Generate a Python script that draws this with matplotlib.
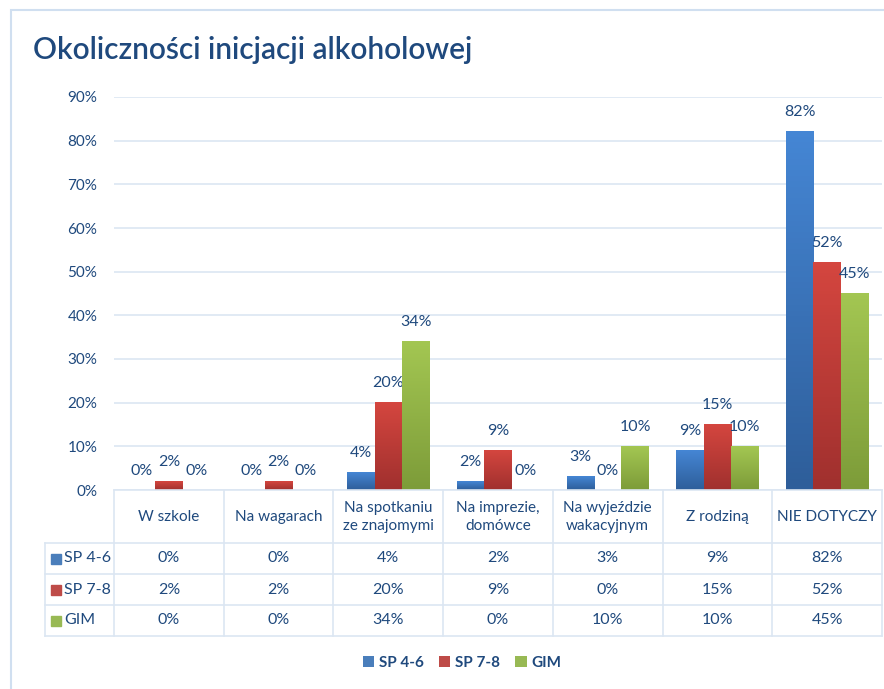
import numpy as np
import matplotlib
matplotlib.use("Agg")
import matplotlib.pyplot as plt
from matplotlib.patches import Patch, Rectangle
from matplotlib.colors import LinearSegmentedColormap

plt.rcParams["font.family"] = ["Lato", "DejaVu Sans"]

categories = ["W szkole", "Na wagarach", "Na spotkaniu\nze znajomymi",
              "Na imprezie,\ndomówce", "Na wyjeździe\nwakacyjnym",
              "Z rodziną", "NIE DOTYCZY"]
series = ["SP 4-6", "SP 7-8", "GIM"]
sp46 = [0, 0, 4, 2, 3, 9, 82]
sp78 = [2, 2, 20, 9, 0, 15, 52]
gim = [0, 0, 34, 0, 10, 10, 45]
yticks = [0, 10, 20, 30, 40, 50, 60, 70, 80, 90]

TEXT = "#1F497D"
GRID = "#DCE6F2"
flat_colors = ["#4A7EBB", "#BE4B48", "#98B954"]
grad_colors = [("#2E5E9A", "#4586D4"), ("#A0302E", "#D4463F"), ("#7D9C39", "#A3C652")]

W, H = 884, 689
fig = plt.figure(figsize=(W / 100, H / 100), dpi=100)

# outer chart frame
fig.patches.append(Rectangle((11 / W, -0.1), 2.0, (H - 10) / H + 0.1,
                             transform=fig.transFigure, fill=False,
                             edgecolor="#D0DFF0", lw=1.5))

fig.text(33 / W, 1 - 50 / H, "Okoliczności inicjacji alkoholowej",
         fontsize=21.5, color=TEXT, va="center", ha="left", fontweight="semibold")

ax = fig.add_axes([114 / W, (H - 490) / H, 768 / W, 393 / H])
x = np.arange(len(categories))
bw = 0.25
data = [sp46, sp78, gim]

for i, vals in enumerate(data):
    bars = ax.bar(x + (i - 1) * bw, vals, bw, color="none", zorder=3)
    cmap = LinearSegmentedColormap.from_list("g%d" % i, grad_colors[i])
    grad = np.linspace(0, 1, 64).reshape(-1, 1)
    for b, v in zip(bars, vals):
        if v > 0:
            ax.imshow(grad, cmap=cmap, origin="lower", aspect="auto",
                      extent=[b.get_x(), b.get_x() + b.get_width(), 0, b.get_height()],
                      zorder=3)
        ax.annotate("%d%%" % v, (b.get_x() + b.get_width() / 2, v),
                    xytext=(0, 14), textcoords="offset points",
                    ha="center", va="center", fontsize=11.5, color=TEXT)

ax.set_xlim(-0.5, len(categories) - 0.5)
ax.set_ylim(0, 90)
ax.set_yticks(yticks)
ax.set_yticklabels(["%d%%" % t for t in yticks])
ax.tick_params(axis="y", length=0, pad=12, labelsize=11, labelcolor=TEXT)
ax.set_xticks([])
for s in ax.spines.values():
    s.set_visible(False)
ax.grid(axis="y", color=GRID, lw=1.2, zorder=0)
ax.set_axisbelow(True)

# data table under the chart
left = -0.5 - 69 / 109.7
tx = fig.add_axes([45 / W, (H - 636) / H, 837 / W, 146 / H])
tx.set_xlim(left, len(categories) - 0.5)
tx.set_ylim(146, 0)
tx.axis("off")
row_edges = [0, 53, 84, 115, 146]
for k in range(len(categories) + 1):
    tx.plot([k - 0.5, k - 0.5], [0, 146], color=GRID, lw=1.2, clip_on=False)
tx.plot([left, left], [53, 146], color=GRID, lw=1.2, clip_on=False)
tx.plot([-0.5, len(categories) - 0.5], [0, 0], color=GRID, lw=1.2, clip_on=False)
for yy in row_edges[1:]:
    tx.plot([left, len(categories) - 0.5], [yy, yy], color=GRID, lw=1.2, clip_on=False)

for j, c in enumerate(categories):
    tx.text(j, 27, c, ha="center", va="center", fontsize=11, color=TEXT,
            linespacing=1.3)
for i, (name, vals) in enumerate(zip(series, data)):
    yc = (row_edges[i + 1] + row_edges[i + 2]) / 2
    tx.plot(left + 10.5 / 109.7, yc, marker="s", ms=6.5, color=flat_colors[i],
            clip_on=False)
    tx.text(left + 19 / 109.7, yc, name, ha="left", va="center",
            fontsize=11.5, color=TEXT)
    for j, v in enumerate(vals):
        tx.text(j, yc, "%d%%" % v, ha="center", va="center", fontsize=11.5,
                color=TEXT)

handles = [Patch(facecolor=c, label=s) for c, s in zip(flat_colors, series)]
fig.legend(handles=handles, loc="center", bbox_to_anchor=(462 / W, 1 - 663 / H),
           ncol=3, frameon=False, handlelength=0.75,
           handleheight=0.75, handletextpad=0.3, columnspacing=1.0,
           labelcolor=TEXT, prop={"size": 11, "weight": "bold"})

fig.savefig("out.png", dpi=100)
